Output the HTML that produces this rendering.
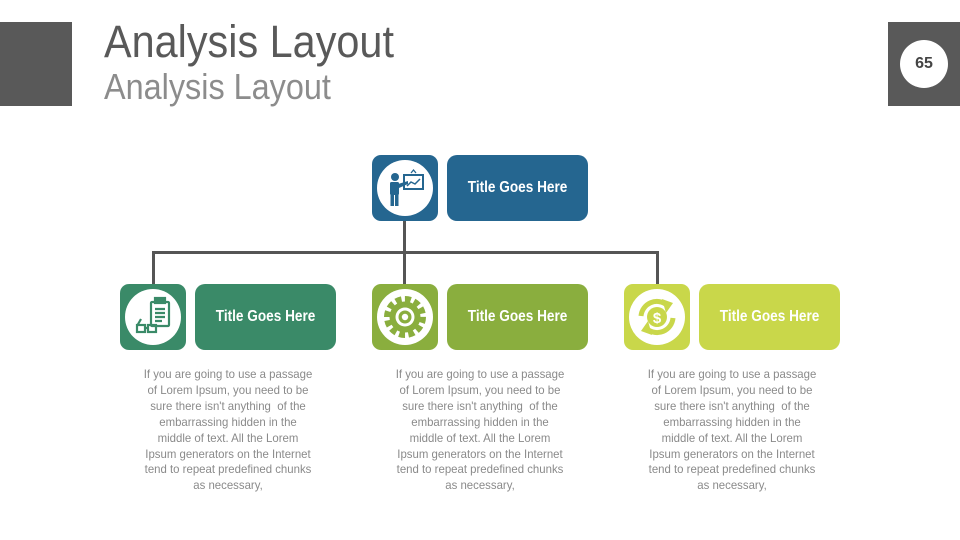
<!DOCTYPE html>
<html><head><meta charset="utf-8"><style>
*{margin:0;padding:0;box-sizing:border-box}
body{width:960px;height:540px;background:#fff;position:relative;overflow:hidden;font-family:"Liberation Sans",sans-serif}
.a{position:absolute}
.t1{left:104px;top:16px;font-size:45px;color:#595959;transform:scaleX(0.92);transform-origin:left top;white-space:nowrap}
.t2{left:104px;top:66px;font-size:36px;color:#8c8c8c;transform:scaleX(0.9);transform-origin:left top;white-space:nowrap}
.ib{width:66px;height:66px;border-radius:9px}
.ib .c{position:absolute;left:5px;top:5px;width:56px;height:56px;border-radius:50%;background:#fff}
.tb{width:141px;height:66px;border-radius:10px;color:#fff;font-weight:bold;font-size:16px;display:flex;align-items:center;justify-content:center}
.tb span{display:inline-block;transform:scaleX(0.85);white-space:nowrap}
.tx{width:222px;text-align:center;font-size:12px;line-height:15.9px;color:#8a8a8a;transform:scaleX(0.95);transform-origin:center top;white-space:nowrap}
.ln{background:#555}
</style></head><body>
<div class="a" style="left:0;top:22px;width:72px;height:84px;background:#595959"></div>
<div class="a" style="left:888px;top:22px;width:72px;height:84px;background:#595959"></div>
<div class="a" style="left:900px;top:40px;width:48px;height:48px;border-radius:50%;background:#fff;color:#444;font-weight:bold;font-size:16px;display:flex;align-items:center;justify-content:center">65</div>
<div class="a t1">Analysis Layout</div>
<div class="a t2">Analysis Layout</div>

<div class="a ln" style="left:403px;top:220px;width:3px;height:33px"></div>
<div class="a ln" style="left:152px;top:251px;width:507px;height:3px"></div>
<div class="a ln" style="left:152px;top:251px;width:3px;height:34px"></div>
<div class="a ln" style="left:403px;top:251px;width:3px;height:34px"></div>
<div class="a ln" style="left:656px;top:251px;width:3px;height:34px"></div>

<div class="a ib" style="left:372px;top:155px;background:#256690"><div class="c">
<svg width="56" height="56" viewBox="0 0 56 56" fill="#256690"><circle cx="18" cy="17" r="4"/><rect x="13" y="22" width="9" height="13" rx="1.5"/><rect x="13.5" y="34" width="3.5" height="12"/><rect x="18" y="34" width="3.5" height="12"/><path d="M21 24 L31 21 L31 24 L22 28z"/><rect x="27" y="15" width="19" height="14" fill="none" stroke="#256690" stroke-width="2"/><path d="M30 26 L34 22 L38 24 L43 19" fill="none" stroke="#256690" stroke-width="1.5"/><path d="M34 13 L36.5 10 L39 13" fill="none" stroke="#256690" stroke-width="1.3"/></svg></div></div>
<div class="a tb" style="left:447px;top:155px;background:#256690"><span>Title Goes Here</span></div>

<div class="a ib" style="left:120px;top:284px;background:#3a8a68"><div class="c">
<svg width="56" height="56" viewBox="0 0 56 56" fill="none" stroke="#3a8a68" stroke-width="2.2"><rect x="26" y="13" width="18" height="24" rx="1"/><rect x="30" y="9" width="10" height="5" fill="#3a8a68"/><path d="M30 20h10M30 24h10M30 28h10M30 32h7"/><rect x="12" y="36" width="8" height="7"/><rect x="23" y="36" width="8" height="7"/><path d="M20 39h3M12 37 L16 30"/></svg></div></div>
<div class="a tb" style="left:195px;top:284px;background:#3a8a68"><span>Title Goes Here</span></div>

<div class="a ib" style="left:372px;top:284px;background:#8aae3e"><div class="c">
<svg width="56" height="56" viewBox="0 0 56 56"><circle cx="28" cy="28" r="18" fill="none" stroke="#8aae3e" stroke-width="6" stroke-dasharray="6 3.4"/><circle cx="28" cy="28" r="15.5" fill="#8aae3e"/><circle cx="28" cy="28" r="9.5" fill="#fff"/><circle cx="28" cy="28" r="6.5" fill="#8aae3e"/><circle cx="28" cy="28" r="3.2" fill="#fff"/></svg></div></div>
<div class="a tb" style="left:447px;top:284px;background:#8aae3e"><span>Title Goes Here</span></div>

<div class="a ib" style="left:624px;top:284px;background:#c9d74a"><div class="c">
<svg width="56" height="56" viewBox="0 0 56 56"><path d="M12 27 A16 16 0 0 1 38 16" fill="none" stroke="#c9d74a" stroke-width="5"/><path d="M33 10 L44 14 L37 24z" fill="#c9d74a"/><path d="M44 29 A16 16 0 0 1 18 40" fill="none" stroke="#c9d74a" stroke-width="5"/><path d="M23 46 L12 42 L19 32z" fill="#c9d74a"/><circle cx="28" cy="28" r="10" fill="#c9d74a"/><text x="28" y="34" text-anchor="middle" font-size="15" font-weight="bold" fill="#fff">$</text></svg></div></div>
<div class="a tb" style="left:699px;top:284px;background:#c9d74a"><span>Title Goes Here</span></div>

<div class="a tx" style="left:117px;top:367px">If you are going to use a passage<br>of Lorem Ipsum, you need to be<br>sure there isn't anything &nbsp;of the<br>embarrassing hidden in the<br>middle of text. All the Lorem<br>Ipsum generators on the Internet<br>tend to repeat predefined chunks<br>as necessary,</div>
<div class="a tx" style="left:369px;top:367px">If you are going to use a passage<br>of Lorem Ipsum, you need to be<br>sure there isn't anything &nbsp;of the<br>embarrassing hidden in the<br>middle of text. All the Lorem<br>Ipsum generators on the Internet<br>tend to repeat predefined chunks<br>as necessary,</div>
<div class="a tx" style="left:621px;top:367px">If you are going to use a passage<br>of Lorem Ipsum, you need to be<br>sure there isn't anything &nbsp;of the<br>embarrassing hidden in the<br>middle of text. All the Lorem<br>Ipsum generators on the Internet<br>tend to repeat predefined chunks<br>as necessary,</div>
</body></html>
